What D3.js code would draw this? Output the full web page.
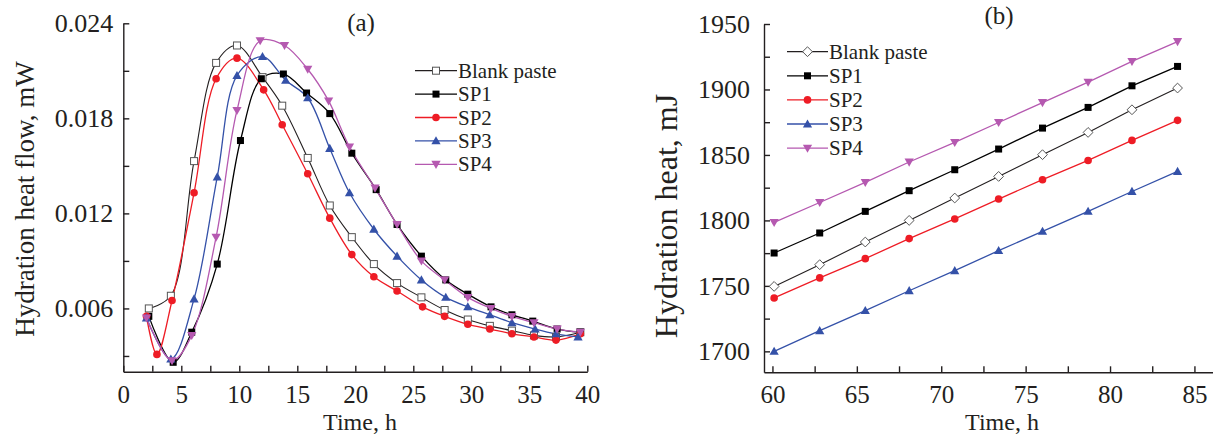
<!DOCTYPE html>
<html>
<head>
<meta charset="utf-8">
<script src="https://cdn.jsdelivr.net/npm/d3@7"></script>
<style>
  body { margin: 0; background: #fff; }
  .axis path, .axis line { stroke: #231f20; stroke-width: 1.4; }
</style>
</head>
<body>
<div id="chart"></div>
<script>
// ---- Panel (a): hydration heat flow, mW ----
const seriesNames = ["Blank paste", "SP1", "SP2", "SP3", "SP4"];

const blankTime = [2.2, 4.1, 6.1, 8.0, 9.8, 12.0, 13.7, 15.9, 17.8, 19.7, 21.6, 23.6, 25.7, 27.7, 29.7, 31.6, 33.5, 35.4, 37.3, 39.4];
const blankFlow = [0.0060, 0.0068, 0.0153, 0.0215, 0.0226, 0.0206, 0.0188, 0.0155, 0.0125, 0.0105, 0.0088, 0.0076, 0.0067, 0.0059, 0.0053, 0.0049, 0.0046, 0.0043, 0.0042, 0.0045];

const sp1Time = [2.2, 4.3, 5.9, 8.1, 10.1, 11.9, 13.8, 15.8, 17.8, 19.7, 21.8, 23.6, 25.7, 27.8, 29.7, 31.7, 33.5, 35.3, 37.4, 39.4];
const sp1Flow = [0.0055, 0.0026, 0.0045, 0.0088, 0.0166, 0.0205, 0.0208, 0.0196, 0.0183, 0.0158, 0.0135, 0.0113, 0.0093, 0.0078, 0.0069, 0.0061, 0.0056, 0.0052, 0.0047, 0.0045];

const sp2Time = [2.0, 2.9, 4.2, 6.1, 8.0, 9.8, 12.1, 13.7, 15.9, 17.8, 19.7, 21.6, 23.6, 25.8, 27.7, 29.7, 31.6, 33.5, 35.4, 37.3, 39.4];
const sp2Flow = [0.0055, 0.0031, 0.0065, 0.0133, 0.0205, 0.0218, 0.0198, 0.0176, 0.0145, 0.0117, 0.0094, 0.0080, 0.0071, 0.0061, 0.0055, 0.0050, 0.0047, 0.0044, 0.0042, 0.0040, 0.0044];

const sp3Time = [2.0, 4.1, 6.1, 8.1, 9.8, 12.0, 14.0, 15.9, 17.8, 19.5, 21.6, 23.6, 25.7, 27.8, 29.7, 31.6, 33.5, 35.5, 37.3, 39.2];
const sp3Flow = [0.0054, 0.0028, 0.0066, 0.0143, 0.0207, 0.0219, 0.0204, 0.0193, 0.0161, 0.0133, 0.0110, 0.0093, 0.0078, 0.0067, 0.0061, 0.0056, 0.0051, 0.0047, 0.0044, 0.0042];

const sp4Time = [2.0, 4.2, 5.9, 8.0, 9.8, 11.8, 13.9, 15.9, 17.7, 19.5, 21.7, 23.6, 25.7, 27.7, 29.7, 31.7, 33.5, 35.4, 37.4, 39.4];
const sp4Flow = [0.0054, 0.0027, 0.0043, 0.0105, 0.0185, 0.0229, 0.0226, 0.0211, 0.0191, 0.0162, 0.0136, 0.0113, 0.0090, 0.0078, 0.0067, 0.0060, 0.0055, 0.0051, 0.0047, 0.0045];

const flowTicks = [0.006, 0.012, 0.018, 0.024];
const flowMinorTicks = [0.003, 0.009, 0.015, 0.021];
const timeTicksA = [0, 5, 10, 15, 20, 25, 30, 35, 40];
const timeMinorTicksA = [2.5, 7.5, 12.5, 17.5, 22.5, 27.5, 32.5, 37.5];

// ---- Panel (b): cumulative hydration heat, mJ ----
const timeB = [60.1, 62.8, 65.5, 68.1, 70.8, 73.4, 76.0, 78.7, 81.3, 84.0];
const blankHeat = [1749.6, 1766.2, 1783.5, 1800.0, 1817.1, 1833.6, 1850.2, 1867.2, 1884.5, 1901.1];
const sp1Heat = [1775.1, 1790.4, 1806.9, 1822.7, 1838.7, 1854.5, 1870.5, 1886.3, 1902.8, 1917.6];
const sp2Heat = [1740.8, 1756.1, 1770.8, 1786.1, 1801.1, 1816.3, 1831.1, 1845.8, 1861.1, 1876.4];
const sp3Heat = [1700.0, 1715.8, 1731.1, 1746.3, 1761.6, 1776.9, 1791.6, 1806.9, 1822.1, 1837.4];
const sp4Heat = [1798.5, 1813.7, 1829.0, 1844.6, 1859.6, 1874.8, 1890.0, 1905.6, 1921.4, 1936.6];

const heatTicks = [1700, 1750, 1800, 1850, 1900, 1950];
const heatMinorTicks = [1725, 1775, 1825, 1875, 1925];
const timeTicksB = [60, 65, 70, 75, 80, 85];
const timeMinorTicksB = [62.5, 67.5, 72.5, 77.5, 82.5];

// Colours and markers, one per series.
const colors = ["#231f20", "#000000", "#ee1c25", "#3451a8", "#b559b0"];
const serif = "'Liberation Serif', 'Times New Roman', Times, serif";
const ink = "#231f20";

const svg = d3.select("#chart")
  .append("svg")
  .attr("width", 1213)
  .attr("height", 435)
  .attr("font-family", serif);

// Set the serif font straight on a text selection (the axis sets sans-serif on its group).
function serifText(sel, size) {
  return sel.attr("font-family", serif)
    .style("font-family", serif)
    .attr("font-size", size)
    .attr("fill", ink);
}

// Draw a marker of a given kind at (0,0) into a selection.
function drawMarker(sel, kind, color, size) {
  const s = size;
  if (kind === "openSquare") {
    sel.append("rect").attr("x", -s / 2).attr("y", -s / 2).attr("width", s).attr("height", s)
      .attr("fill", "#fff").attr("stroke", "#555").attr("stroke-width", 1);
  } else if (kind === "square") {
    sel.append("rect").attr("x", -s / 2).attr("y", -s / 2).attr("width", s).attr("height", s)
      .attr("fill", color);
  } else if (kind === "circle") {
    sel.append("circle").attr("r", s / 2 + 0.3).attr("fill", color);
  } else if (kind === "up") {
    const h = s * 1.1;
    sel.append("path").attr("d", `M0,${-h * 0.6}L${h * 0.6},${h * 0.45}L${-h * 0.6},${h * 0.45}Z`).attr("fill", color);
  } else if (kind === "down") {
    const h = s * 1.1;
    sel.append("path").attr("d", `M0,${h * 0.6}L${h * 0.6},${-h * 0.45}L${-h * 0.6},${-h * 0.45}Z`).attr("fill", color);
  } else if (kind === "openDiamond") {
    const r = s * 0.7;
    sel.append("path").attr("d", `M0,${-r}L${r},0L0,${r}L${-r},0Z`)
      .attr("fill", "#fff").attr("stroke", "#555").attr("stroke-width", 1);
  }
}

// Draw a panel: axes, lines, markers, legend.
function drawPanel(cfg) {
  const g = svg.append("g");
  const x = d3.scaleLinear().domain(cfg.xDomain).range(cfg.xRange);
  const y = d3.scaleLinear().domain(cfg.yDomain).range(cfg.yRange);

  // Minor ticks first (no labels).
  g.append("g").attr("class", "axis")
    .attr("transform", `translate(0,${cfg.yRange[0]})`)
    .call(d3.axisBottom(x).tickValues(cfg.xMinor).tickSize(-6).tickSizeOuter(0).tickFormat(""))
    .call(a => a.select(".domain").remove());
  g.append("g").attr("class", "axis")
    .attr("transform", `translate(${cfg.xRange[0]},0)`)
    .call(d3.axisLeft(y).tickValues(cfg.yMinor).tickSize(-6).tickSizeOuter(0).tickFormat(""))
    .call(a => a.select(".domain").remove());

  // Major axes.
  const xAxis = g.append("g").attr("class", "axis")
    .attr("transform", `translate(0,${cfg.yRange[0]})`)
    .call(d3.axisBottom(x).tickValues(cfg.xTicks).tickSize(-6).tickSizeOuter(0).tickPadding(cfg.xPad));
  serifText(xAxis.selectAll("text"), cfg.tickFont);

  const yAxis = g.append("g").attr("class", "axis")
    .attr("transform", `translate(${cfg.xRange[0]},0)`)
    .call(d3.axisLeft(y).tickValues(cfg.yTicks).tickSize(-6).tickSizeOuter(0).tickPadding(cfg.yPad).tickFormat(cfg.yFormat));
  serifText(yAxis.selectAll("text"), cfg.yTickFont);

  // Axis titles.
  serifText(g.append("text"), cfg.titleFont)
    .attr("x", cfg.xTitle[0]).attr("y", cfg.xTitle[1])
    .attr("text-anchor", "middle")
    .text("Time, h");
  serifText(g.append("text"), cfg.yTitleFont)
    .attr("transform", `translate(${cfg.yTitle[0]},${cfg.yTitle[1]}) rotate(-90)`)
    .attr("text-anchor", "middle")
    .text(cfg.yLabel);
  serifText(g.append("text"), 25)
    .attr("x", cfg.panelTag[0]).attr("y", cfg.panelTag[1])
    .attr("text-anchor", "middle")
    .text(cfg.tag);

  // Lines.
  const line = d3.line()
    .x(d => x(d[0]))
    .y(d => y(d[1]))
    .curve(cfg.curve);

  cfg.series.forEach((s, i) => {
    const pts = d3.zip(s.time, s.values);
    g.append("path")
      .datum(pts)
      .attr("fill", "none")
      .attr("stroke", colors[i])
      .attr("stroke-width", i === 0 ? 1.1 : 1.3)
      .attr("d", line);
  });

  // Markers drawn after lines so they sit on top.
  cfg.series.forEach((s, i) => {
    const pts = d3.zip(s.time, s.values);
    g.selectAll(null)
      .data(pts)
      .enter()
      .append("g")
      .attr("transform", d => `translate(${x(d[0])},${y(d[1])})`)
      .each(function() { drawMarker(d3.select(this), s.marker, colors[i], cfg.markerSize); });
  });

  // Legend.
  const legend = g.append("g");
  seriesNames.forEach((name, i) => {
    const yy = cfg.legend.y0 + i * cfg.legend.dy;
    legend.append("line")
      .attr("x1", cfg.legend.x0).attr("x2", cfg.legend.x1)
      .attr("y1", yy).attr("y2", yy)
      .attr("stroke", colors[i]).attr("stroke-width", 1.3);
    const m = legend.append("g").attr("transform", `translate(${(cfg.legend.x0 + cfg.legend.x1) / 2},${yy})`);
    drawMarker(m, cfg.series[i].marker, colors[i], cfg.markerSize);
    serifText(legend.append("text"), 21)
      .attr("x", cfg.legend.x1 + 1).attr("y", yy)
      .attr("dy", "0.34em")
      .text(name);
  });
}

drawPanel({
  tag: "(a)",
  panelTag: [361, 31],
  xDomain: [0, 40], xRange: [123.3, 587.3],
  yDomain: [0.002, 0.024], yRange: [371.8, 23.3],
  xTicks: timeTicksA, xMinor: timeMinorTicksA,
  yTicks: flowTicks, yMinor: flowMinorTicks,
  yFormat: d3.format(".3f"),
  xPad: 13, yPad: 10,
  tickFont: 25, yTickFont: 26, titleFont: 24, yTitleFont: 27,
  xTitle: [360, 429.5], yTitle: [34, 199],
  yLabel: "Hydration heat flow, mW",
  curve: d3.curveCatmullRom.alpha(0.5),
  markerSize: 7,
  legend: { x0: 415, x1: 457, y0: 70.7, dy: 23.4 },
  series: [
    { time: blankTime, values: blankFlow, marker: "openSquare" },
    { time: sp1Time, values: sp1Flow, marker: "square" },
    { time: sp2Time, values: sp2Flow, marker: "circle" },
    { time: sp3Time, values: sp3Flow, marker: "up" },
    { time: sp4Time, values: sp4Flow, marker: "down" }
  ]
});

drawPanel({
  tag: "(b)",
  panelTag: [999, 24],
  xDomain: [59.5, 86.1], xRange: [764, 1213],
  yDomain: [1684, 1950], yRange: [372.3, 24],
  xTicks: timeTicksB, xMinor: timeMinorTicksB,
  yTicks: heatTicks, yMinor: heatMinorTicks,
  yFormat: d3.format("d"),
  xPad: 13, yPad: 14,
  tickFont: 25, yTickFont: 26, titleFont: 24, yTitleFont: 32,
  xTitle: [1002, 429.5], yTitle: [677, 216],
  yLabel: "Hydration heat, mJ",
  curve: d3.curveLinear,
  markerSize: 7,
  legend: { x0: 787, x1: 828, y0: 51.7, dy: 24.1 },
  series: [
    { time: timeB, values: blankHeat, marker: "openDiamond" },
    { time: timeB, values: sp1Heat, marker: "square" },
    { time: timeB, values: sp2Heat, marker: "circle" },
    { time: timeB, values: sp3Heat, marker: "up" },
    { time: timeB, values: sp4Heat, marker: "down" }
  ]
});
</script>
</body>
</html>
